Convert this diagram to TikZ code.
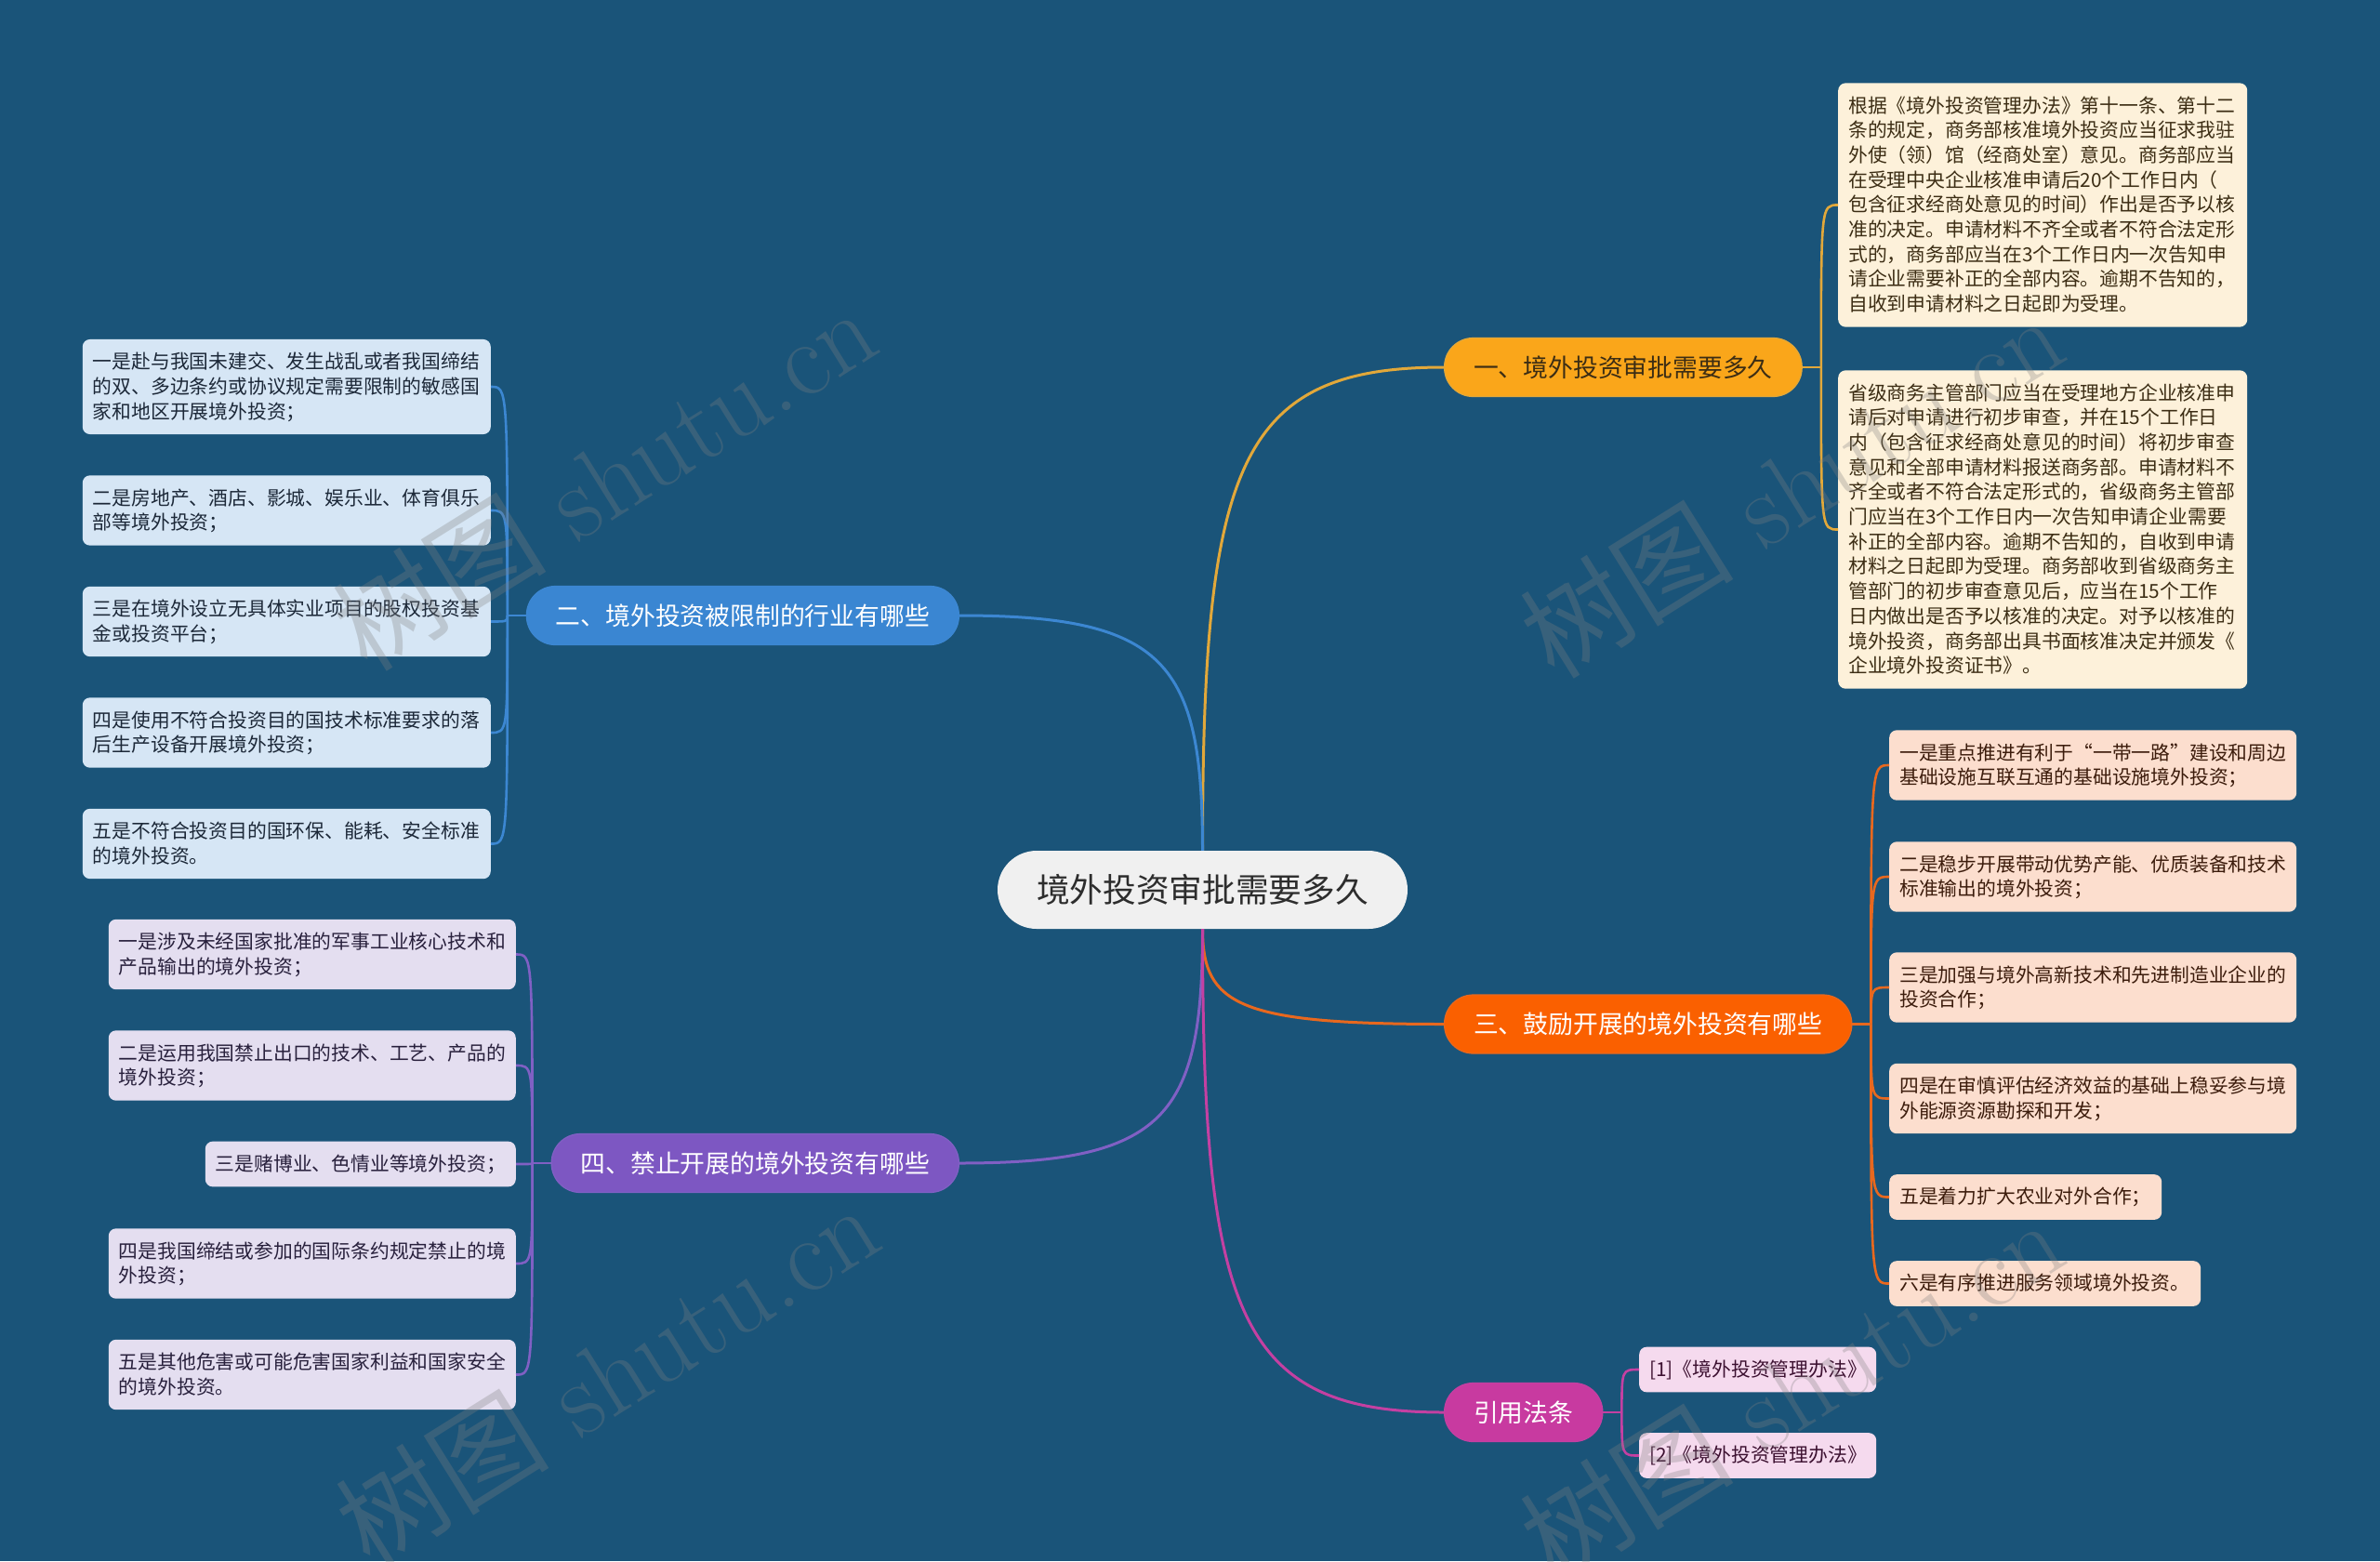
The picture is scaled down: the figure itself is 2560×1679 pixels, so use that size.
\documentclass[tikz,border=0pt]{standalone}
\usepackage{fontspec}
\newfontfamily\cjk{Noto Sans CJK SC}
\usetikzlibrary{calc}
\definecolor{bgc}{RGB}{26,84,121}
\definecolor{cfill}{RGB}{240,240,240}
\definecolor{ctext}{RGB}{45,45,45}
\definecolor{yb}{RGB}{250,166,26}
\definecolor{yline}{RGB}{226,168,58}
\definecolor{yleafc}{RGB}{253,241,218}
\definecolor{ytext}{RGB}{60,45,20}
\definecolor{ob}{RGB}{250,96,0}
\definecolor{oline}{RGB}{232,104,30}
\definecolor{oleafc}{RGB}{252,222,206}
\definecolor{otext}{RGB}{60,28,12}
\definecolor{bb}{RGB}{58,134,210}
\definecolor{bline}{RGB}{60,135,210}
\definecolor{bleafc}{RGB}{214,230,245}
\definecolor{btext}{RGB}{28,40,56}
\definecolor{pb}{RGB}{125,87,194}
\definecolor{pline}{RGB}{128,96,196}
\definecolor{pleafc}{RGB}{228,222,240}
\definecolor{ptext}{RGB}{40,32,60}
\definecolor{mb}{RGB}{200,58,160}
\definecolor{mline}{RGB}{196,64,162}
\definecolor{mleafc}{RGB}{245,218,238}
\definecolor{mtext}{RGB}{60,16,48}
\definecolor{wmc}{RGB}{128,128,128}
\newcommand\lst{\rule[-6pt]{0pt}{26.7pt}}
\newcommand\cbr[3]{\draw[#1] (#2) .. controls ($(#2)!0.8!(#2|-#3)$) and ($(#3)!0.85!(#3-|#2)$) .. (#3);}
\newcommand\lfc[3]{\draw[#1] (#2) .. controls (#2|-#3) .. (#3);}
\tikzset{
 rootnode/.style={fill=cfill, text=ctext, rounded corners=42pt, minimum height=84pt, inner xsep=42pt, inner ysep=0pt, font=\cjk\fontsize{35.7}{40}\selectfont},
 branchbox/.style={rounded corners=31pt, minimum height=63pt, inner xsep=31.5pt, inner ysep=0pt, line width=1.2pt, font=\cjk\fontsize{26.8}{30}\selectfont},
 leafbox/.style={rounded corners=8pt, inner xsep=11pt, inner ysep=11pt, align=left, font=\cjk\fontsize{20.8}{26.7}\selectfont},
 yl/.style={leafbox, fill=yleafc, text=ytext, text width=418pt, anchor=west},
 ol/.style={leafbox, fill=oleafc, text=otext, text width=416pt, anchor=west},
 ml/.style={leafbox, fill=mleafc, text=mtext, text width=233pt, anchor=west},
 bl/.style={leafbox, fill=bleafc, text=btext, text width=417pt, anchor=east},
 pl/.style={leafbox, fill=pleafc, text=ptext, text width=416pt, anchor=east},
 mainline/.style={line width=3pt},
 leafline/.style={line width=2.6pt},
 wm/.style={rotate=32, text=wmc, opacity=0.3, font=\fontsize{115}{115}\selectfont},
}
\begin{document}
\begin{tikzpicture}[x=1pt,y=-1pt]
\fill[bgc] (0,0) rectangle (2560,1679);
\useasboundingbox (0,0) rectangle (2560,1679);

% root
\node[rootnode] (c) at (1293.5,957) {境外投资审批需要多久};

% branches
\node[branchbox, fill=yb, draw=yline, text=ytext, anchor=west] (b1) at (1553,395) {一、境外投资审批需要多久};
\node[branchbox, fill=bb, draw=bline, text=white, anchor=east] (b2) at (1032,662) {二、境外投资被限制的行业有哪些};
\node[branchbox, fill=ob, draw=oline, text=white, anchor=west] (b3) at (1553,1101.5) {三、鼓励开展的境外投资有哪些};
\node[branchbox, fill=pb, draw=pline, text=white, anchor=east] (b4) at (1032,1251) {四、禁止开展的境外投资有哪些};
\node[branchbox, fill=mb, draw=mline, text=white, anchor=west] (b5) at (1553,1519) {引用法条};

% leaves branch 1
\node[yl] (l1a) at (1977,220.5) {\lst 根据《境外投资管理办法》第十一条、第十二\\条的规定，商务部核准境外投资应当征求我驻\\外使（领）馆（经商处室）意见。商务部应当\\在受理中央企业核准申请后20个工作日内（\\包含征求经商处意见的时间）作出是否予以核\\准的决定。申请材料不齐全或者不符合法定形\\式的，商务部应当在3个工作日内一次告知申\\请企业需要补正的全部内容。逾期不告知的，\\自收到申请材料之日起即为受理。\lst};
\node[yl] (l1b) at (1977,569.5) {\lst 省级商务主管部门应当在受理地方企业核准申\\请后对申请进行初步审查，并在15个工作日\\内（包含征求经商处意见的时间）将初步审查\\意见和全部申请材料报送商务部。申请材料不\\齐全或者不符合法定形式的，省级商务主管部\\门应当在3个工作日内一次告知申请企业需要\\补正的全部内容。逾期不告知的，自收到申请\\材料之日起即为受理。商务部收到省级商务主\\管部门的初步审查意见后，应当在15个工作\\日内做出是否予以核准的决定。对予以核准的\\境外投资，商务部出具书面核准决定并颁发《\\企业境外投资证书》。\lst};

% leaves branch 2
\node[bl] (l2a) at (528,416) {\lst 一是赴与我国未建交、发生战乱或者我国缔结\\的双、多边条约或协议规定需要限制的敏感国\\家和地区开展境外投资；\lst};
\node[bl] (l2b) at (528,549) {\lst 二是房地产、酒店、影城、娱乐业、体育俱乐\\部等境外投资；\lst};
\node[bl] (l2c) at (528,668.5) {\lst 三是在境外设立无具体实业项目的股权投资基\\金或投资平台；\lst};
\node[bl] (l2d) at (528,788) {\lst 四是使用不符合投资目的国技术标准要求的落\\后生产设备开展境外投资；\lst};
\node[bl] (l2e) at (528,907.5) {\lst 五是不符合投资目的国环保、能耗、安全标准\\的境外投资。\lst};

% leaves branch 3
\node[ol] (l3a) at (2032,823) {\lst 一是重点推进有利于“一带一路”建设和周边\\基础设施互联互通的基础设施境外投资；\lst};
\node[ol] (l3b) at (2032,943) {\lst 二是稳步开展带动优势产能、优质装备和技术\\标准输出的境外投资；\lst};
\node[ol] (l3c) at (2032,1062) {\lst 三是加强与境外高新技术和先进制造业企业的\\投资合作；\lst};
\node[ol] (l3d) at (2032,1181.5) {\lst 四是在审慎评估经济效益的基础上稳妥参与境\\外能源资源勘探和开发；\lst};
\node[ol, text width=271pt] (l3e) at (2032,1287.5) {\lst 五是着力扩大农业对外合作；\lst};
\node[ol, text width=313pt] (l3f) at (2032,1380.5) {\lst 六是有序推进服务领域境外投资。\lst};

% leaves branch 4
\node[pl] (l4a) at (555,1026.5) {\lst 一是涉及未经国家批准的军事工业核心技术和\\产品输出的境外投资；\lst};
\node[pl] (l4b) at (555,1146) {\lst 二是运用我国禁止出口的技术、工艺、产品的\\境外投资；\lst};
\node[pl, text width=312pt] (l4c) at (555,1252) {\lst 三是赌博业、色情业等境外投资；\lst};
\node[pl] (l4d) at (555,1359) {\lst 四是我国缔结或参加的国际条约规定禁止的境\\外投资；\lst};
\node[pl] (l4e) at (555,1478.5) {\lst 五是其他危害或可能危害国家利益和国家安全\\的境外投资。\lst};

% leaves branch 5
\node[ml] (l5a) at (1763,1473) {\lst [1]《境外投资管理办法》\lst};
\node[ml] (l5b) at (1763,1565.5) {\lst [2]《境外投资管理办法》\lst};

% root to branches
\cbr{mainline, yline}{c.north}{b1.west}
\cbr{mainline, bline}{c.north}{b2.east}
\cbr{mainline, oline}{c.south}{b3.west}
\cbr{mainline, pline}{c.south}{b4.east}
\cbr{mainline, mline}{c.south}{b5.west}

% junctions
\coordinate (j1) at ([xshift=20pt]b1.east);
\coordinate (j2) at ([xshift=-20pt]b2.west);
\coordinate (j3) at ([xshift=20pt]b3.east);
\coordinate (j4) at ([xshift=-20pt]b4.west);
\coordinate (j5) at ([xshift=20pt]b5.east);
\draw[leafline, yline] (b1.east) -- (j1);
\draw[leafline, bline] (b2.west) -- (j2);
\draw[leafline, oline] (b3.east) -- (j3);
\draw[leafline, pline] (b4.west) -- (j4);
\draw[leafline, mline] (b5.east) -- (j5);

\lfc{leafline, yline}{j1}{l1a.west}
\lfc{leafline, yline}{j1}{l1b.west}
\lfc{leafline, bline}{j2}{l2a.east}
\lfc{leafline, bline}{j2}{l2b.east}
\lfc{leafline, bline}{j2}{l2c.east}
\lfc{leafline, bline}{j2}{l2d.east}
\lfc{leafline, bline}{j2}{l2e.east}
\lfc{leafline, oline}{j3}{l3a.west}
\lfc{leafline, oline}{j3}{l3b.west}
\lfc{leafline, oline}{j3}{l3c.west}
\lfc{leafline, oline}{j3}{l3d.west}
\lfc{leafline, oline}{j3}{l3e.west}
\lfc{leafline, oline}{j3}{l3f.west}
\lfc{leafline, pline}{j4}{l4a.east}
\lfc{leafline, pline}{j4}{l4b.east}
\lfc{leafline, pline}{j4}{l4c.east}
\lfc{leafline, pline}{j4}{l4d.east}
\lfc{leafline, pline}{j4}{l4e.east}
\lfc{leafline, mline}{j5}{l5a.west}
\lfc{leafline, mline}{j5}{l5b.west}

% watermarks
\node[wm] (w1) at (650,514) {{\cjk 树图} shutu.cn};
\node[wm] (w2) at (1927,522) {{\cjk 树图} shutu.cn};
\node[wm] (w3) at (653,1478) {{\cjk 树图} shutu.cn};
\node[wm] (w4) at (1927,1494) {{\cjk 树图} shutu.cn};
\end{tikzpicture}
\end{document}
